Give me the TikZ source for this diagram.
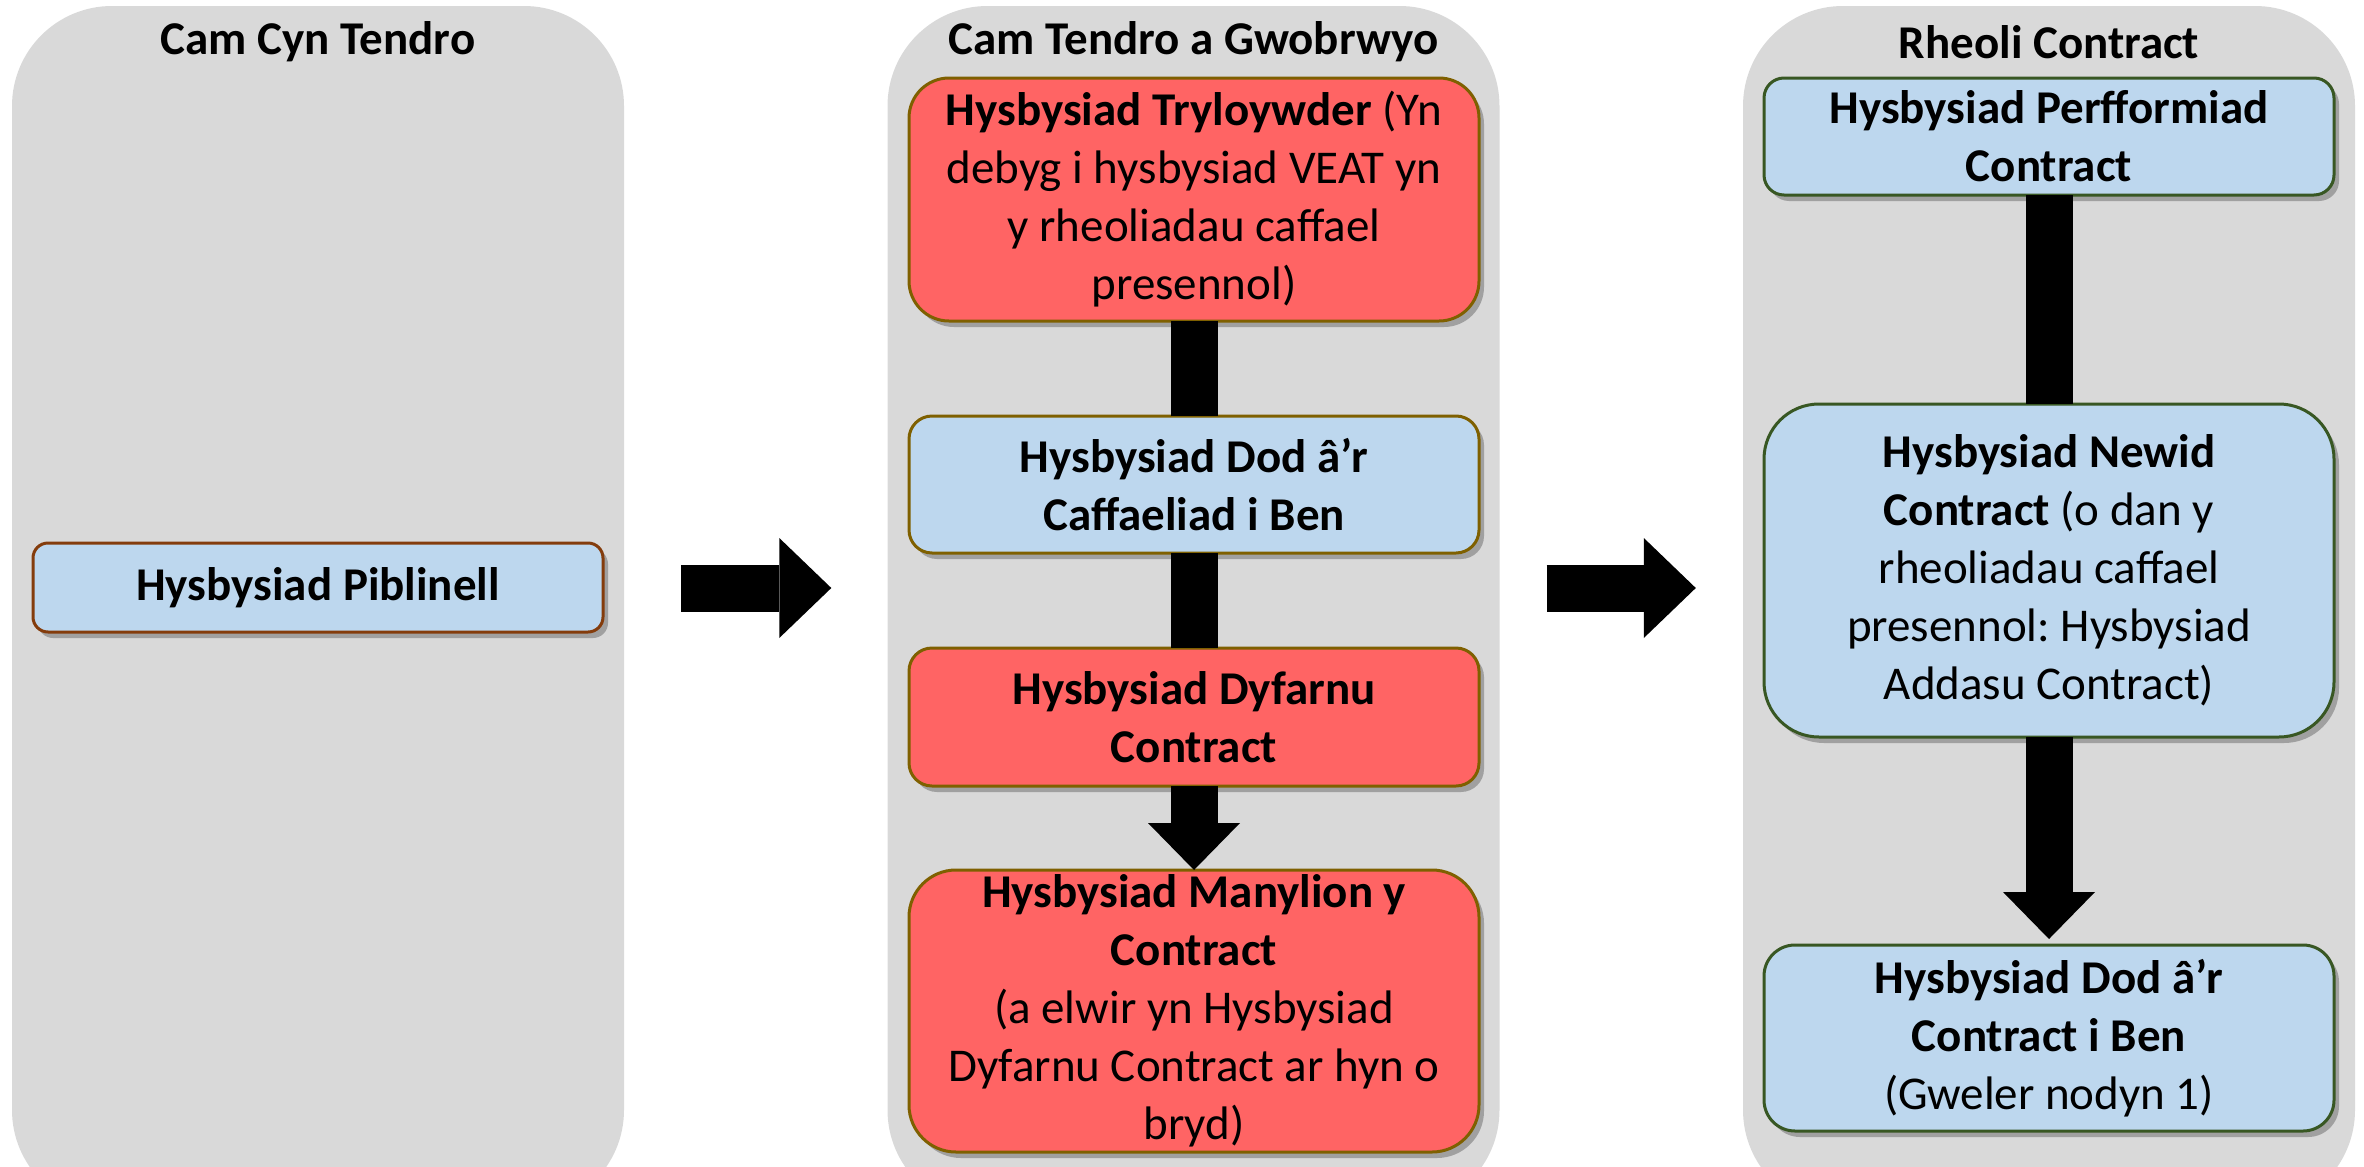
\documentclass[tikz,border=0pt]{standalone}
\usepackage{fontspec}
\setmainfont{Carlito}
\usetikzlibrary{positioning,shadows,arrows.meta}
\definecolor{panelgray}{HTML}{D9D9D9}
\definecolor{boxblue}{HTML}{BDD7EE}
\definecolor{boxred}{HTML}{FF6464}
\definecolor{edgebrown}{HTML}{843C0C}
\definecolor{edgeolive}{HTML}{7F6000}
\definecolor{edgegreen}{HTML}{385723}
\frenchspacing
\begin{document}
\begin{tikzpicture}[
x=1pt, y=-1pt,
font=\fontsize{47pt}{58pt}\selectfont,
panel/.style={rectangle, fill=panelgray, rounded corners=100pt, minimum width=612pt, minimum height=1204pt, inner sep=0pt},
title/.style={font=\fontsize{47pt}{58pt}\selectfont\bfseries},
box/.style={rectangle, line width=3pt, align=center, minimum width=570pt, inner sep=0pt, outer sep=0pt,
  drop shadow={shadow xshift=5pt, shadow yshift=-6pt, opacity=0.4, fill=black!70}},
bluebox/.style={box, fill=boxblue},
redbox/.style={box, fill=boxred, draw=edgeolive},
bar/.style={line width=47pt},
downarrow/.style={line width=47pt, -{Triangle[width=92pt, length=47pt, line width=0pt]}},
sidearrow/.style={line width=47pt, -{Triangle[width=100pt, length=52pt, line width=0pt]}},
]
\useasboundingbox (0,0) rectangle (2364,1167);
\clip (0,0) rectangle (2364,1167);
%Panels
\node[panel](pcyn) at (318,608){};
\node[panel](pten) at (1193.5,608){};
\node[panel](prhe) at (2049,608){};
\node[title](tcyn) at (318,42){Cam Cyn Tendro};
\node[title](tten) at (1193.5,42){Cam Tendro a Gwobrwyo};
\node[title](trhe) at (2049,42){Rheoli Contract};

%Nodes
\node[bluebox,draw=edgebrown,rounded corners=15pt,minimum height=89pt](pib) at (318,587.5){\textbf{Hysbysiad Piblinell}};

\node[redbox,rounded corners=40pt,minimum height=243pt](try) at (1194,199.5){\textbf{Hysbysiad Tryloywder} (Yn\\debyg i hysbysiad VEAT yn\\y rheoliadau caffael\\presennol)};
\node[bluebox,draw=edgeolive,rounded corners=23pt,minimum height=137pt,below=95pt of try](dod){\textbf{Hysbysiad Dod â’r}\\\textbf{Caffaeliad i Ben}};
\node[redbox,rounded corners=23pt,minimum height=138pt,below=95pt of dod](dyf){\textbf{Hysbysiad Dyfarnu}\\\textbf{Contract}};
\node[redbox,rounded corners=47pt,minimum height=282pt,below=84pt of dyf](man){\textbf{Hysbysiad Manylion y}\\\textbf{Contract}\\(a elwir yn Hysbysiad\\Dyfarnu Contract ar hyn o\\bryd)};

\node[bluebox,draw=edgegreen,rounded corners=20pt,minimum height=117pt](perf) at (2049,136.5){\textbf{Hysbysiad Perfformiad}\\\textbf{Contract}};
\node[bluebox,draw=edgegreen,rounded corners=55pt,minimum height=333pt,below=209pt of perf](new){\textbf{Hysbysiad Newid}\\\textbf{Contract} (o dan y\\rheoliadau caffael\\presennol: Hysbysiad\\Addasu Contract)};
\node[bluebox,draw=edgegreen,rounded corners=31pt,minimum height=186pt,below=208pt of new](diw){\textbf{Hysbysiad Dod â’r}\\\textbf{Contract i Ben}\\(Gweler nodyn 1)};

%Connectors
\draw[bar] (try) -- (dod);
\draw[bar] (dod) -- (dyf);
\draw[downarrow] (dyf) -- (man);
\draw[bar] (perf) -- (new);
\draw[downarrow, shorten >=6pt] (new) -- (diw);

\draw[sidearrow, shorten <=57pt, shorten >=56pt] ([yshift=20pt]pcyn.east) -- ([yshift=20pt]pten.west);
\draw[sidearrow, shorten <=47pt, shorten >=47pt] ([yshift=20pt]pten.east) -- ([yshift=20pt]prhe.west);
\end{tikzpicture}
\end{document}
